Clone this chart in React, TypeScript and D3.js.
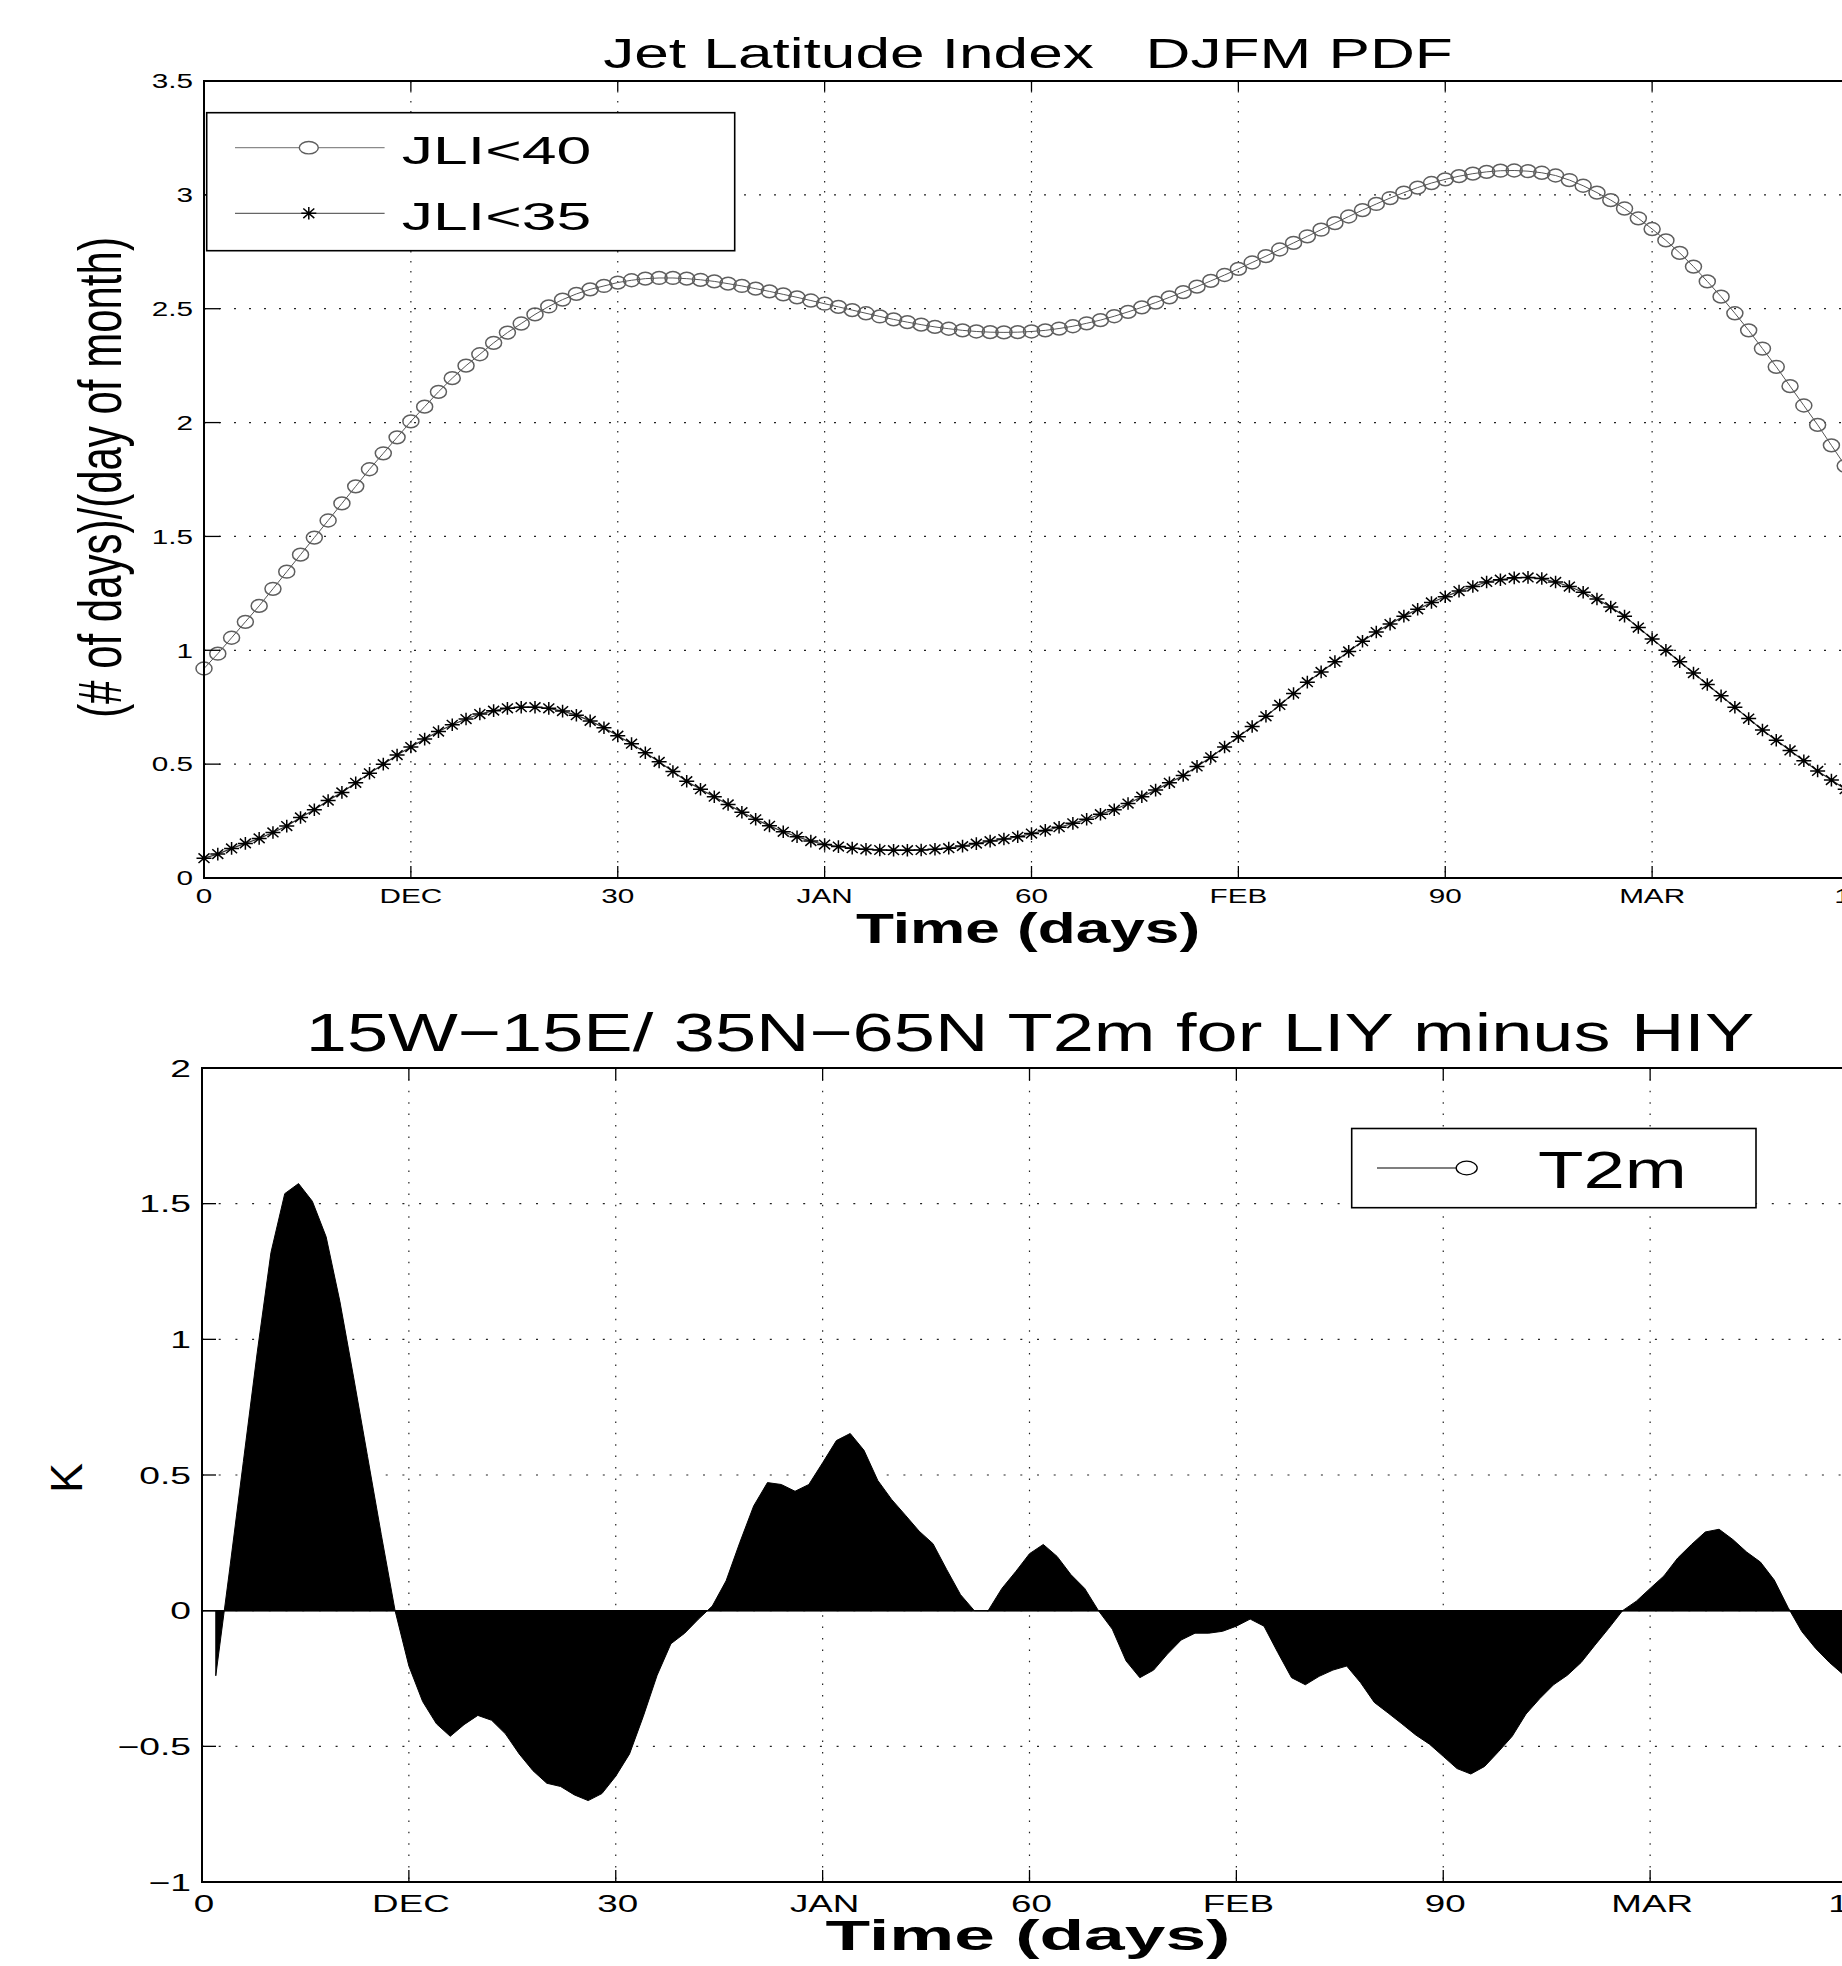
import React from "react";
import * as d3 from "d3";

// ---------- data ----------
const jliDays = d3.range(0, 121);
const jli40 = [
  0.92, 0.985, 1.055, 1.125, 1.195, 1.27, 1.345, 1.42, 1.495, 1.57,
  1.645, 1.72, 1.795, 1.865, 1.935, 2.005, 2.07, 2.135, 2.195, 2.25,
  2.3, 2.35, 2.395, 2.435, 2.475, 2.51, 2.54, 2.565, 2.585, 2.6,
  2.615, 2.625, 2.632, 2.635, 2.635, 2.632, 2.627, 2.62, 2.61, 2.6,
  2.588, 2.576, 2.563, 2.55, 2.536, 2.522, 2.508, 2.494, 2.48, 2.466,
  2.453, 2.441, 2.43, 2.42, 2.412, 2.405, 2.4, 2.397, 2.396, 2.397,
  2.4, 2.405, 2.413, 2.423, 2.436, 2.45, 2.467, 2.486, 2.506, 2.527,
  2.55, 2.573, 2.597, 2.622, 2.648, 2.675, 2.703, 2.731, 2.76, 2.789,
  2.818, 2.847, 2.876, 2.905, 2.933, 2.96, 2.986, 3.01, 3.032, 3.052,
  3.068, 3.082, 3.093, 3.101, 3.106, 3.107, 3.104, 3.097, 3.085, 3.065,
  3.04, 3.01, 2.977, 2.94, 2.897, 2.85, 2.8, 2.745, 2.685, 2.62,
  2.553, 2.48, 2.405, 2.325, 2.245, 2.16, 2.075, 1.99, 1.9, 1.81,
  1.72,
];
const jli35 = [
  0.087, 0.105, 0.13, 0.152, 0.174, 0.2, 0.228, 0.266, 0.3, 0.34,
  0.376, 0.418, 0.46, 0.5, 0.54, 0.575, 0.61, 0.643, 0.673, 0.698,
  0.72, 0.735, 0.745, 0.75, 0.75, 0.745, 0.733, 0.715, 0.69, 0.66,
  0.625, 0.59, 0.55, 0.51, 0.468, 0.425, 0.39, 0.357, 0.323, 0.289,
  0.258, 0.229, 0.203, 0.181, 0.162, 0.147, 0.138, 0.131, 0.126, 0.123,
  0.122, 0.122, 0.123, 0.126, 0.131, 0.14, 0.151, 0.162, 0.171, 0.181,
  0.195, 0.209, 0.223, 0.24, 0.258, 0.28, 0.3, 0.327, 0.357, 0.386,
  0.418, 0.45, 0.49, 0.53, 0.575, 0.62, 0.665, 0.71, 0.76, 0.81,
  0.86, 0.905, 0.95, 0.995, 1.04, 1.08, 1.115, 1.15, 1.18, 1.21,
  1.235, 1.26, 1.28, 1.3, 1.31, 1.318, 1.32, 1.315, 1.3, 1.28,
  1.255, 1.225, 1.19, 1.15, 1.1, 1.05, 1.0, 0.95, 0.9, 0.85,
  0.8, 0.75, 0.7, 0.65, 0.605, 0.56, 0.515, 0.47, 0.43, 0.39,
  0.35,
];
const t2mDays = d3.range(1, 121);
const t2m = [
  -0.24, 0.15, 0.55, 0.95, 1.32, 1.537, 1.574, 1.509, 1.378, 1.139,
  0.858, 0.569, 0.28, 0.0, -0.204, -0.335, -0.417, -0.463, -0.42, -0.386,
  -0.404, -0.454, -0.528, -0.59, -0.636, -0.648, -0.679, -0.7, -0.674, -0.61,
  -0.528, -0.389, -0.238, -0.122, -0.083, -0.031, 0.017, 0.11, 0.252, 0.386,
  0.472, 0.465, 0.44, 0.465, 0.545, 0.627, 0.653, 0.591, 0.48, 0.41,
  0.352, 0.293, 0.247, 0.151, 0.059, 0.0, 0.0, 0.082, 0.144, 0.21,
  0.244, 0.2, 0.133, 0.082, 0.0, -0.068, -0.185, -0.247, -0.219, -0.16,
  -0.108, -0.083, -0.083, -0.076, -0.057, -0.031, -0.057, -0.154, -0.247, -0.273,
  -0.242, -0.219, -0.204, -0.265, -0.338, -0.377, -0.417, -0.458, -0.492, -0.537,
  -0.582, -0.602, -0.574, -0.52, -0.463, -0.381, -0.324, -0.273, -0.238, -0.191,
  -0.127, -0.065, 0.0, 0.035, 0.082, 0.128, 0.194, 0.244, 0.29, 0.3,
  0.262, 0.216, 0.179, 0.113, 0.012, -0.077, -0.139, -0.191, -0.235, -0.27,
];
const xTickValues = [0, 15, 30, 45, 60, 75, 90, 105, 120];
const xTickLabels = ["0", "DEC", "30", "JAN", "60", "FEB", "90", "MAR", "120"];
const topYTicks = [0, 0.5, 1, 1.5, 2, 2.5, 3, 3.5];
const botYTicks = [-1, -0.5, 0, 0.5, 1, 1.5, 2];
const topTitle = "Jet Latitude Index   DJFM PDF";
const botTitle = "15W\u221215E/ 35N\u221265N T2m for LIY minus HIY";
const topYLabel = "(# of days)/(day of month)";
const xLabel = "Time (days)";
const botYLabel = "K";
const legendTop = ["JLI<40", "JLI<35"];
const legendBot = ["T2m"];

const FONT = "'Liberation Sans', Arial, Helvetica, sans-serif";

function fmt(v: number) {
  const s = String(v);
  return v < 0 ? "\u2212" + s.slice(1) : s;
}

function T(props: any) {
  const { x, y, size, sx = 1, sy = 1, rot = 0, anchor = "start", weight = "normal", children } = props;
  return (
    <text
      transform={`translate(${x},${y}) rotate(${rot}) scale(${sx},${sy})`}
      fontFamily={FONT}
      fontSize={size}
      fontWeight={weight}
      textAnchor={anchor}
      fill="#000"
      style={{ whiteSpace: "pre" }}
    >
      {children}
    </text>
  );
}

function Asterisk({ cx, cy, color }: any) {
  const hw = 7.5, hh = 6.3, dx = 5.5, dy = 4.8;
  return (
    <path
      d={`M${cx - hw},${cy}L${cx + hw},${cy}M${cx},${cy - hh}L${cx},${cy + hh}M${cx - dx},${cy - dy}L${cx + dx},${cy + dy}M${cx - dx},${cy + dy}L${cx + dx},${cy - dy}`}
      stroke={color}
      strokeWidth={1.5}
      fill="none"
    />
  );
}

export default function App() {
  // top panel
  const xT = d3.scaleLinear().domain([0, 120]).range([204, 1859]);
  const yT = d3.scaleLinear().domain([0, 3.5]).range([878, 81]);
  // bottom panel
  const xB = d3.scaleLinear().domain([0, 120]).range([202, 1857]);
  const yB = d3.scaleLinear().domain([-1, 2]).range([1882, 1068]);

  const line40 = d3.line<number>().x((_, i) => xT(jliDays[i])).y((d) => yT(d))(jli40) || "";
  const line35 = d3.line<number>().x((_, i) => xT(jliDays[i])).y((d) => yT(d))(jli35) || "";
  const areaT = d3
    .area<number>()
    .x((_, i) => xB(t2mDays[i]))
    .y0(yB(0))
    .y1((d) => yB(d))(t2m) || "";

  const [tl, tr, tt, tb] = [xT(0), xT(120), yT(3.5), yT(0)];
  const [bl, br, bt, bb] = [xB(0), xB(120), yB(2), yB(-1)];

  return (
    <svg
      width={1842}
      height={1966}
      style={{ position: "absolute", left: 0, top: 0, background: "#fff" }}
    >
      <rect x={0} y={0} width={1842} height={1966} fill="#fff" />

      {/* ================= TOP PANEL ================= */}
      <g>
        {xTickValues.slice(1, -1).map((v) => (
          <line key={"tgx" + v} x1={xT(v)} x2={xT(v)} y1={tt} y2={tb} stroke="#222" strokeWidth={1.2} strokeDasharray="1.5,8.5" />
        ))}
        {topYTicks.slice(1, -1).map((v) => (
          <line key={"tgy" + v} x1={tl} x2={tr} y1={yT(v)} y2={yT(v)} stroke="#222" strokeWidth={1.2} strokeDasharray="2,13" />
        ))}
        <path d={line40} fill="none" stroke="#555" strokeWidth={1} />
        {jli40.map((v, i) => (
          <ellipse key={"c" + i} cx={xT(jliDays[i])} cy={yT(v)} rx={8} ry={6.4} fill="none" stroke="#5e5e5e" strokeWidth={1.5} />
        ))}
        <path d={line35} fill="none" stroke="#333" strokeWidth={1.2} />
        {jli35.map((v, i) => (
          <Asterisk key={"a" + i} cx={xT(jliDays[i])} cy={yT(v)} color="#000" />
        ))}
        <rect x={tl} y={tt} width={tr - tl} height={tb - tt} fill="none" stroke="#000" strokeWidth={2} />
        {xTickValues.map((v) => (
          <g key={"ttx" + v}>
            <line x1={xT(v)} x2={xT(v)} y1={tb} y2={tb - 12} stroke="#000" strokeWidth={1.3} />
            <line x1={xT(v)} x2={xT(v)} y1={tt} y2={tt + 10} stroke="#000" strokeWidth={1.3} />
          </g>
        ))}
        {topYTicks.map((v) => (
          <line key={"tty" + v} x1={tl} x2={tl + 16} y1={yT(v)} y2={yT(v)} stroke="#000" strokeWidth={1.3} />
        ))}
        {xTickValues.map((v, i) => (
          <T key={"txl" + v} x={xT(v)} y={902.7} size={20.5} sx={1.45} anchor="middle">
            {xTickLabels[i]}
          </T>
        ))}
        {topYTicks.map((v) => (
          <T key={"tyl" + v} x={193} y={yT(v) + 7.3} size={20.5} sx={1.45} anchor="end">
            {fmt(v)}
          </T>
        ))}
        <T x={1028} y={68.3} size={42} sx={1.48} anchor="middle">{topTitle}</T>
        <T x={1028} y={943} size={42} sx={1.48} anchor="middle" weight="bold">{xLabel}</T>
        <T x={121} y={477.5} size={42} sy={1.45} rot={-90} anchor="middle">{topYLabel}</T>
        {/* legend */}
        <rect x={206.7} y={112.7} width={528} height={138} fill="#fff" stroke="#000" strokeWidth={1.6} />
        <line x1={235} x2={384.6} y1={147.7} y2={147.7} stroke="#8a8a8a" strokeWidth={1.3} />
        <ellipse cx={308.8} cy={147.7} rx={9.5} ry={6.2} fill="#fff" stroke="#5e5e5e" strokeWidth={1.4} />
        <line x1={235} x2={384.6} y1={213.3} y2={213.3} stroke="#666" strokeWidth={1.3} />
        <Asterisk cx={308.8} cy={213.3} color="#000" />
        <T x={401.8} y={164.3} size={38.6} sx={1.62}>{legendTop[0]}</T>
        <T x={401.8} y={230} size={38.6} sx={1.62}>{legendTop[1]}</T>
      </g>

      {/* ================= BOTTOM PANEL ================= */}
      <g>
        {xTickValues.slice(1, -1).map((v) => (
          <line key={"bgx" + v} x1={xB(v)} x2={xB(v)} y1={bt} y2={bb} stroke="#222" strokeWidth={1.2} strokeDasharray="1.5,9.9" />
        ))}
        {botYTicks.slice(1, -1).map((v) => (
          <line key={"bgy" + v} x1={bl} x2={br} y1={yB(v)} y2={yB(v)} stroke="#222" strokeWidth={1.2} strokeDasharray="2,14.7" />
        ))}
        <path d={areaT} fill="#000" stroke="#000" strokeWidth={1} />
        <line x1={bl} x2={br} y1={yB(0)} y2={yB(0)} stroke="#000" strokeWidth={1.5} />
        <rect x={bl} y={bt} width={br - bl} height={bb - bt} fill="none" stroke="#000" strokeWidth={2} />
        {xTickValues.map((v) => (
          <g key={"btx" + v}>
            <line x1={xB(v)} x2={xB(v)} y1={bb} y2={bb - 12} stroke="#000" strokeWidth={1.3} />
            <line x1={xB(v)} x2={xB(v)} y1={bt} y2={bt + 12} stroke="#000" strokeWidth={1.3} />
          </g>
        ))}
        {botYTicks.map((v) => (
          <line key={"bty" + v} x1={bl} x2={bl + 14} y1={yB(v)} y2={yB(v)} stroke="#000" strokeWidth={1.3} />
        ))}
        {xTickValues.map((v, i) => (
          <T key={"bxl" + v} x={xB(v) + 2} y={1911.7} size={24.5} sx={1.5} anchor="middle">
            {xTickLabels[i]}
          </T>
        ))}
        {botYTicks.map((v) => (
          <T key={"byl" + v} x={191} y={yB(v) + 8.5} size={24} sx={1.55} anchor="end">
            {fmt(v)}
          </T>
        ))}
        <T x={1030} y={1051} size={54} sx={1.37} anchor="middle">{botTitle}</T>
        <T x={1028} y={1950} size={43} sx={1.7} anchor="middle" weight="bold">{xLabel}</T>
        <T x={81.5} y={1478} size={45} rot={-90} anchor="middle">{botYLabel}</T>
        {/* legend */}
        <rect x={1351.7} y={1128.5} width={404.3} height={79.2} fill="#fff" stroke="#000" strokeWidth={1.6} />
        <line x1={1377} x2={1466.7} y1={1168} y2={1168} stroke="#000" strokeWidth={1.1} />
        <ellipse cx={1466.7} cy={1168} rx={10.5} ry={6.8} fill="#fff" stroke="#000" strokeWidth={1.3} />
        <T x={1538} y={1188.3} size={51} sx={1.46}>{legendBot[0]}</T>
      </g>
    </svg>
  );
}
